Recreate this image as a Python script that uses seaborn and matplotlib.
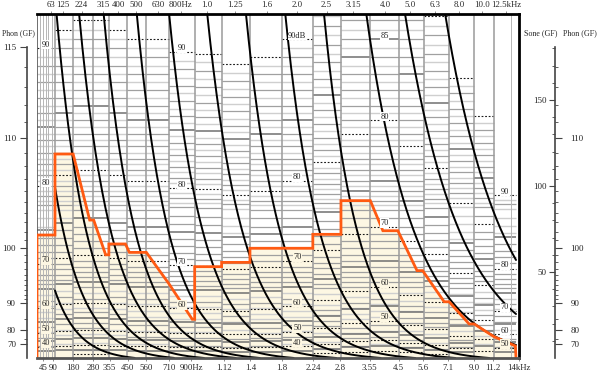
import numpy as np
import matplotlib
matplotlib.use('Agg')
import matplotlib.pyplot as plt
import seaborn as sns

# ==============================================================
# basic style
# ==============================================================
sns.set_theme(style='white')
plt.rcParams['font.family'] = ['Liberation Serif', 'DejaVu Serif']

# ==============================================================
# data (x = critical band rate, y = loudness in sone)
# ==============================================================
band_edges = [0, 0.90, 1.81, 2.80, 3.60, 4.51, 5.48, 6.62, 7.90, 9.25, 10.67,
              12.27, 13.82, 15.23, 16.70, 18.13, 19.37, 20.66, 21.91, 22.90, 24.0]
# band level (dB) that gives 100 sone on the scale of each band column
band_L100 = [80, 79, 78.5, 78.5, 79, 79.5, 79.5, 80.2, 80.3, 80.9,
             80.5, 79.5, 77.8, 75.5, 74.5, 76.5, 78.3, 81.7, 84.2, 90.9]
sub_lines = [0.15, 0.28, 0.43, 0.56, 0.73, 23.76]

top_labels = ['63', '125', '224', '315', '400', '500', '630', '800Hz', '1.0', '1.25',
              '1.6', '2.0', '2.5', '3.15', '4.0', '5.0', '6.3', '8.0', '10.0', '12.5kHz']
top_pos = [0.70, 1.31, 2.23, 3.30, 4.08, 4.97, 6.08, 7.20, 8.53, 9.91,
           11.52, 13.01, 14.51, 15.84, 17.45, 18.69, 19.94, 21.15, 22.31, 23.52]
bottom_labels = ['45', '90', '180', '280', '355', '450', '560', '710', '900Hz', '1.12', '1.4',
                 '1.8', '2.24', '2.8', '3.55', '4.5', '5.6', '7.1', '9.0', '11.2', '14kHz']
bottom_pos = [0.30, 0.81, 1.81, 2.80, 3.64, 4.55, 5.46, 6.62, 7.72, 9.36, 10.69,
              12.27, 13.84, 15.17, 16.67, 18.13, 19.32, 20.57, 21.90, 22.84, 24.15]

# level labels written inside some columns
col_labels = {0: ['90', '80', '70', '60', '50', '40'],
              7: ['90', '80', '70', '60'],
              11: ['90dB', '80', '70', '60', '50', '40'],
              14: ['85', '80', '70', '60', '50'],
              19: ['90', '80', '70', '60', '50']}

# measured loudness pattern (orange)
spec_z = [0, 0, 0.90, 0.90, 1.81, 2.64, 2.84, 3.44, 3.60, 3.60, 4.43, 4.63, 5.48, 6.62,
          7.78, 7.90, 7.90, 9.25, 9.25, 10.67, 10.67, 13.82, 13.82, 15.23, 15.23, 16.70,
          17.33, 18.08, 19.04, 19.32, 20.40, 20.65, 21.65, 21.90, 22.90, 23.97, 24.0]
spec_S = [0, 71.5, 71.5, 118.6, 118.6, 80.2, 80.2, 60, 60, 66.3, 66.3, 61.4, 61.4, 43,
          22.5, 22.5, 53.1, 53.1, 55.6, 55.6, 63.8, 63.8, 71.9, 71.9, 91.5, 91.5,
          74.0, 74.0, 50.8, 50.8, 32.7, 32.7, 19.8, 19.8, 12.4, 7.0, 0]

# masking slope curves: start (200 sone) and decay length
curve_x0 = [-1.05, -0.09, 0.98, 2.11, 3.34, 5.0, 6.62, 8.53, 10.47, 12.44, 14.38, 16.50, 18.44, 20.45]
curve_lam = [1.22, 1.43, 1.51, 1.61, 1.60, 1.61, 1.71, 1.78, 1.73, 1.74, 1.69, 2.42, 2.77, 2.87]

phon_major = [70, 80, 90, 100, 110, 115]
phon_minor = [75, 85] + list(range(91, 115))
sone_major = [50, 100, 150]
sone_minor = [10, 20, 30, 40, 60, 70, 80, 90, 110, 120, 130, 140, 160, 170, 180]

cream = '#fdf7e3'
orange = '#ff5a12'


def level_to_sone(L, L100, r=1.77, c=4.0):
    return (100 + c) * r ** ((L - L100) / 10) - c


def phon_to_sone(p):
    return 2.0 ** ((np.asarray(p, dtype=float) - 40) / 10)


# ==============================================================
# figure
# ==============================================================
fig = plt.figure(figsize=(6.0, 3.72), dpi=100)
ax = fig.add_axes([37 / 600, 14 / 372, 482 / 600, 344 / 372])
ax.set_xlim(0, 24)
ax.set_ylim(0, 200)
ax.set_facecolor('white')

# cream area under the pattern
ax.fill_between(spec_z, spec_S, 0, color=cream, lw=0, zorder=0)

# horizontal level lines of every band column (half dB steps)
ys, xa, xb, cols, lws, lss = [], [], [], [], [], []
for i, L100 in enumerate(band_L100):
    left, right = band_edges[i], band_edges[i + 1]
    last = None
    for L in np.arange(90, 0, -0.5):
        s = level_to_sone(L, L100)
        if s <= 2.4:
            break
        if s > 199:
            continue
        if last is not None and last - s < 2.6 and L % 5:
            continue
        last = s
        ys.append(s); xa.append(left); xb.append(right)
        if L % 10 == 0:
            cols.append('#1a1a1a'); lws.append(0.8); lss.append((0, (1.6, 1.6)))
        elif L % 5 == 0:
            cols.append('#707070'); lws.append(1.1); lss.append('solid')
        elif L % 1 == 0:
            cols.append('#a0a0a0'); lws.append(0.9); lss.append('solid')
        else:
            cols.append('#cfcfcf'); lws.append(1.0); lss.append('solid')
ax.hlines(ys, xa, xb, colors=cols, linewidths=lws, linestyles=lss, zorder=1)

# column borders
for e in band_edges[1:-1]:
    ax.axvline(e, color='#9a9a9a', lw=1.1, zorder=2)
for e in sub_lines:
    ax.axvline(e, color='#b5b5b5', lw=0.7, zorder=2)

# slope curves
for x0, lam in zip(curve_x0, curve_lam):
    z = np.linspace(max(x0, band_edges[1]), 24, 400)
    s = 201.5 * np.exp(-(z - x0) / lam) - 1.5
    keep = s >= 0
    ax.plot(z[keep], np.minimum(s[keep], 200), color='black', lw=1.4, zorder=3)

# loudness pattern
ax.plot(spec_z, spec_S, color=orange, lw=2.0, zorder=4, solid_joinstyle='miter')

# level labels
for i, labs in col_labels.items():
    zc = (band_edges[i] + band_edges[i + 1]) / 2
    for lab in labs:
        L = int(''.join(ch for ch in lab if ch.isdigit()))
        s = level_to_sone(L, band_L100[i]) + 2
        bg = cream if s < np.interp(zc, spec_z, spec_S) else 'white'
        ax.text(zc, s, lab, fontsize=6, ha='center', va='center', zorder=5,
                bbox=dict(boxstyle='square,pad=0.08', fc=bg, ec='none'))

# frame
ax.axvline(0, color='#555555', lw=1.2, zorder=2)
ax.spines['top'].set_color('black'); ax.spines['top'].set_linewidth(2)
ax.spines['right'].set_color('black'); ax.spines['right'].set_linewidth(2)
ax.spines['bottom'].set_color('#555555'); ax.spines['bottom'].set_linewidth(2)
for sp in ['top', 'right', 'bottom']:
    ax.spines[sp].set_zorder(6)

# bottom band-edge labels
ax.set_xticks(bottom_pos, bottom_labels)
ax.tick_params(axis='x', bottom=True, length=2, width=0.6, pad=2, labelsize=6.3, color='#777777')

# top centre-frequency labels
top = ax.secondary_xaxis('top')
top.set_xticks(top_pos, top_labels)
top.tick_params(length=2, width=0.6, pad=1.5, labelsize=6.3, color='#777777')
top.spines['top'].set_visible(False)

# left phon axis
ax.spines['left'].set_position(('outward', 7.2))
ax.spines['left'].set_bounds(0, phon_to_sone(115))
ax.spines['left'].set_color('#444444')
ax.spines['left'].set_linewidth(1.2)
ax.set_yticks(phon_to_sone(phon_major), [str(p) for p in phon_major])
ax.set_yticks(phon_to_sone(phon_minor), minor=True)
ax.tick_params(axis='y', which='major', left=True, length=5, width=0.8, pad=3,
               labelsize=6.5, color='#444444')
ax.tick_params(axis='y', which='minor', left=True, length=2.5, width=0.6, color='#444444')
ax.grid(False)

# right sone axis (ticks and labels on the left of the line)
axs = ax.twinx()
axs.set_ylim(0, 200)
for sp in axs.spines.values():
    sp.set_visible(False)
axs.spines['left'].set_visible(True)
axs.spines['left'].set_position(('axes', 518 / 482))
axs.spines['left'].set_bounds(0, phon_to_sone(115))
axs.spines['left'].set_color('#444444')
axs.spines['left'].set_linewidth(1.2)
axs.yaxis.set_ticks_position('left')
axs.set_yticks(sone_major, [str(v) for v in sone_major])
axs.set_yticks(sone_minor, minor=True)
axs.tick_params(axis='y', which='major', length=4, width=0.8, pad=2, labelsize=6.5, color='#444444')
axs.tick_params(axis='y', which='minor', length=2.5, width=0.6, color='#444444')
axs.grid(False)

# right phon axis (ticks and labels on the right of the same line)
axp = ax.twinx()
axp.set_ylim(0, 200)
for sp in axp.spines.values():
    sp.set_visible(False)
axp.yaxis.set_ticks_position('right')
axp.spines['right'].set_position(('axes', 518 / 482))
phon_right = phon_major[:-1]
axp.set_yticks(phon_to_sone(phon_right), [str(p) for p in phon_right])
axp.set_yticks(phon_to_sone(phon_minor), minor=True)
axp.tick_params(axis='y', which='major', length=5, width=0.8, pad=6, labelsize=6.5, color='#444444')
axp.tick_params(axis='y', which='minor', length=2.5, width=0.6, color='#444444')
axp.grid(False)

# axis titles
fig.text(18 / 600, 1 - 33 / 372, 'Phon (GF)', fontsize=5.6, ha='center', va='center')
fig.text(541 / 600, 1 - 33 / 372, 'Sone (GF)', fontsize=5.8, ha='center', va='center')
fig.text(580 / 600, 1 - 33 / 372, 'Phon (GF)', fontsize=5.8, ha='center', va='center')

fig.savefig('out.png', dpi=100)
